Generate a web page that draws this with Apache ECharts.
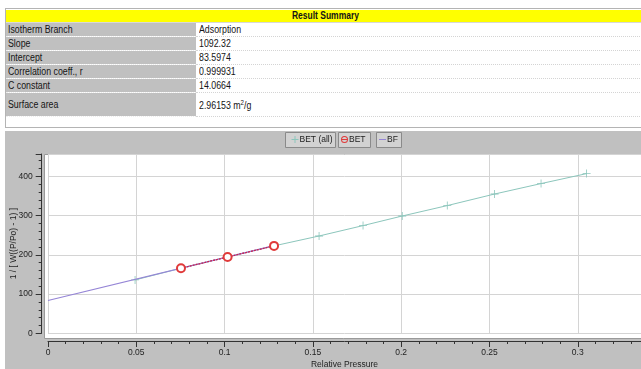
<!DOCTYPE html>
<html>
<head>
<meta charset="utf-8">
<script src="https://cdn.jsdelivr.net/npm/echarts@6/dist/echarts.min.js"></script>
<style>
  html, body { margin: 0; padding: 0; background: #fff; width: 641px; height: 369px; overflow: hidden; }
  #chart { position: absolute; left: 0; top: 0; width: 641px; height: 369px; }
  #summary { position: absolute; left: 5px; top: 8px; width: 640px; height: 120px; border: 1px solid #b4b4b4; background: #fff; z-index: 5; box-sizing: border-box; padding-top: 1px; }
  #summary table { border-collapse: collapse; width: 100%; font-family: "Liberation Sans", Arial, sans-serif; font-size: 10px; color: #151515; }
  #summary td { padding: 0 0 0 3px; height: 13px; line-height: 13px; border-bottom: 1px dotted #d4d4d4; white-space: nowrap; overflow: hidden; }
  #summary td span { display: inline-block; transform: scaleX(0.88); transform-origin: 0 50%; }
  #summary td.h { background: #ffff00; text-align: center; font-weight: bold; height: 12px; line-height: 12px; border-bottom: 1px solid #d8d8d8; padding: 0; }
  #summary td.h span { transform-origin: 50% 50%; transform: scaleX(0.85); }
  #summary td.k { background: #c0c0c0; width: 188px; padding-left: 2px; border-bottom: 1px dotted #eeeeee; }
  #summary tr.tall td { height: 20px; line-height: 20px; }
</style>
</head>
<body>
<div id="summary"><table id="tbl"></table></div>
<div id="chart"></div>
<script>
// ---- data ----
var summaryTitle = 'Result Summary';
var summaryKeys = ['Isotherm Branch', 'Slope', 'Intercept', 'Correlation coeff., r', 'C constant', 'Surface area'];
var summaryValues = ['Adsorption', '1092.32', '83.5974', '0.999931', '14.0664', '2.96153 m<sup style="font-size:7px">2</sup>/g'];

var betAllX = [0.0493, 0.0753, 0.1017, 0.128, 0.1535, 0.1784, 0.2006, 0.2261, 0.2529, 0.2792, 0.305];
var betAllY = [136, 165.8, 194.6, 222.8, 248, 274.5, 299, 325.5, 355, 381.6, 407];
var betX = [0.0753, 0.1017, 0.128];
var betY = [165.8, 194.6, 222.8];
var bfX = [0, 0.128];
var bfY = [83.6, 223.4];
var xTicks = [0, 0.05, 0.1, 0.15, 0.2, 0.25, 0.3];
var yTicks = [0, 100, 200, 300, 400];

// ---- table ----
var html = '<tr><td class="h" colspan="2"><span>' + summaryTitle + '</span></td></tr>';
for (var i = 0; i < summaryKeys.length; i++) {
  html += '<tr' + (i === summaryKeys.length - 1 ? ' class="tall"' : '') + '><td class="k"><span>' + summaryKeys[i] + '</span></td><td><span>' + summaryValues[i] + '</span></td></tr>';
}
document.getElementById('tbl').innerHTML = html;

// ---- chart ----
function pairs(xs, ys) { return xs.map(function (x, i) { return [x, ys[i]]; }); }
var chart = echarts.init(document.getElementById('chart'), null, { renderer: 'canvas' });
var font = '"Liberation Sans", Arial, sans-serif';
var plusPath = 'path://M0,4.5h10v1h-10z M4.5,0h1v10h-1z';
var iconPlus = 'path://M0,3h7v1h-7z M3,0h1v7h-1z';
var iconCircleBar = 'path://M0,3.5 A3.5,3.5 0 1,1 7,3.5 A3.5,3.5 0 1,1 0,3.5 Z M1,3.5 A2.5,2.5 0 1,0 6,3.5 A2.5,2.5 0 1,0 1,3.5 Z M0,3h7v1h-7z';
var iconDash = 'path://M0,3h7v1h-7z';
function legendBox(name, icon, left) {
  return {
    data: [{ name: name, icon: icon }], left: left, top: 135, orient: 'horizontal',
    itemWidth: 7, itemHeight: 7, itemGap: 2, padding: 0,
    itemStyle: { borderWidth: 0 },
    textStyle: { fontSize: 8.5, fontFamily: font, color: '#222', padding: [0, 0, 0, -4] },
    selectedMode: false
  };
}
function boxRect(x, w) {
  return { type: 'rect', z: -5, shape: { x: x + 0.5, y: 132.5, width: w, height: 15 },
    style: { fill: '#d2d2d2', stroke: '#8a8a8a', lineWidth: 1 }, silent: true };
}
var option = {
  animation: false,
  backgroundColor: 'transparent',
  graphic: {
    elements: [
      { type: 'rect', z: -20, shape: { x: 5, y: 131, width: 640, height: 245 }, style: { fill: '#c0c0c0' }, silent: true },
      { type: 'rect', z: -10, shape: { x: 44.5, y: 154.5, width: 600, height: 184 }, style: { fill: '#ffffff', stroke: '#9a9a9a', lineWidth: 1 }, silent: true },
      boxRect(285, 50), boxRect(338, 32), boxRect(376, 25)
    ]
  },
  legend: [legendBox('BET (all)', iconPlus, 291.5), legendBox('BET', iconCircleBar, 341), legendBox('BF', iconDash, 379)],
  grid: { left: 48, right: 0, top: 154, bottom: 35.7, containLabel: false, outerBoundsMode: 'none' },
  xAxis: {
    type: 'value', min: xTicks[0], max: 0.3358, interval: 0.05, offset: 7.7,
    name: 'Relative Pressure', nameLocation: 'middle', nameGap: 19, nameMoveOverlap: false,
    nameTextStyle: { fontSize: 8.5, fontFamily: font, color: '#222' },
    axisLine: { show: true, onZero: false, lineStyle: { color: '#333', width: 1 } },
    axisTick: { show: true, length: 6, lineStyle: { color: '#333' } },
    minorTick: { show: true, splitNumber: 5, length: 3, lineStyle: { color: '#333' } },
    axisLabel: { fontSize: 8.5, fontFamily: font, color: '#222', margin: 7, showMaxLabel: false,
      formatter: function (v) { return xTicks.indexOf(+v.toFixed(2)) >= 0 ? String(+v.toFixed(2)) : ''; } },
    splitLine: { show: true, lineStyle: { color: '#d4d4d4', width: 1 } }
  },
  yAxis: {
    type: 'value', min: yTicks[0], max: 457, interval: 100, offset: 6.3,
    name: '1 / [ W((P/Po) - 1) ]', nameLocation: 'middle', nameGap: 24, nameRotate: 90, nameMoveOverlap: false,
    nameTextStyle: { fontSize: 8.5, fontFamily: font, color: '#222' },
    axisLine: { show: true, onZero: false, lineStyle: { color: '#333', width: 1 } },
    axisTick: { show: true, length: 6, lineStyle: { color: '#333' } },
    minorTick: { show: true, splitNumber: 5, length: 3, lineStyle: { color: '#333' } },
    axisLabel: { fontSize: 8.5, fontFamily: font, color: '#222', margin: 9, showMaxLabel: false,
      formatter: function (v) { return yTicks.indexOf(v) >= 0 ? String(v) : ''; } },
    splitLine: { show: true, lineStyle: { color: '#d4d4d4', width: 1 } }
  },
  series: [
    {
      name: 'BET (all)', type: 'line', data: pairs(betAllX, betAllY),
      symbol: plusPath, symbolSize: 8, showAllSymbol: true,
      itemStyle: { color: '#8cc6bc' }, lineStyle: { color: '#8cc6bc', width: 1 }, z: 2
    },
    {
      name: 'BF', type: 'line', data: pairs(bfX, bfY), symbol: 'none',
      itemStyle: { color: '#9585d6' }, lineStyle: { color: '#9585d6', width: 1.2 }, z: 3
    },
    {
      name: 'BET', type: 'line', data: pairs(betX, betY),
      symbol: 'emptyCircle', symbolSize: 8, showAllSymbol: true,
      itemStyle: { color: '#e03a3a', borderWidth: 1 }, lineStyle: { color: '#cc2050', width: 1.3, type: [2, 1] }, z: 4
    }
  ]
};
chart.setOption(option);
</script>
</body>
</html>
